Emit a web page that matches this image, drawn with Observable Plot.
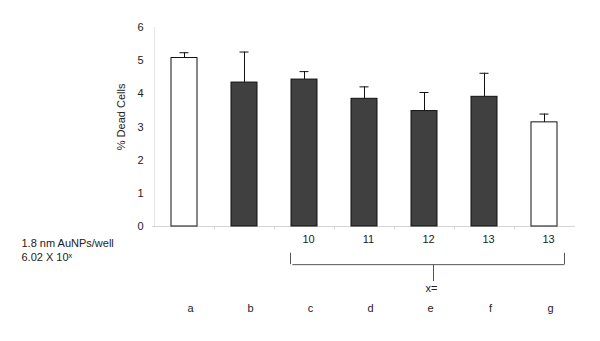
<!DOCTYPE html>
<html>
<head>
<meta charset="utf-8">
<script src="https://cdn.jsdelivr.net/npm/d3@7"></script>
<script src="https://cdn.jsdelivr.net/npm/@observablehq/plot@0.6"></script>
<style>
  html, body { margin: 0; padding: 0; background: #fff; }
  #chart svg { display: block; }
</style>
</head>
<body>
<div id="chart"></div>
<script>
// ---- data ----
const categories = ["a", "b", "c", "d", "e", "f", "g"];
const values = [5.08, 4.34, 4.43, 3.85, 3.48, 3.91, 3.14];
const errors = [0.16, 0.92, 0.24, 0.36, 0.56, 0.71, 0.25];
const kinds = ["open", "filled", "filled", "filled", "filled", "filled", "open"];
const exponents = ["", "", "10", "11", "12", "13", "13"];
const yTicks = [0, 1, 2, 3, 4, 5, 6];
const yLabel = "% Dead Cells";
const rowLabel1 = "1.8 nm AuNPs/well";
const rowLabel2 = "6.02 X 10\u02E3";
const bracketLabel = "x=";

const data = categories.map((c, i) => ({
  cat: c, value: values[i], err: errors[i], kind: kinds[i], exp: exponents[i]
}));

const ink = "#222";

const chart = Plot.plot({
  width: 600,
  height: 341,
  marginTop: 27,
  marginBottom: 115,
  marginLeft: 152,
  marginRight: 25,
  style: { fontFamily: "'Liberation Sans', Arial, sans-serif", fontSize: "11px", color: ink, background: "#fff" },
  x: { domain: categories, paddingInner: 0.57, paddingOuter: 0.3, axis: null },
  y: { domain: [0, 6], axis: null },
  color: { domain: ["open", "filled"], range: ["#ffffff", "#404040"] },
  marks: [
    // faint axis lines
    Plot.ruleY([0], { stroke: "#d4d4d4" }),
    Plot.ruleX([categories[0]], { y1: 0, y2: 6, stroke: "#e6e6e6", dx: -30 }),
    Plot.ruleX(categories.slice(0, 6), { x: d => d, y1: 0, y2: -0.1, stroke: "#d4d4d4", dx: 30 }),
    Plot.axisY({ ticks: yTicks, tickSize: 0, tickPadding: 9, tickFormat: d => d, fill: ink, fontSize: 11, label: null }),
    Plot.text([yLabel], { frameAnchor: "left", y: 2.3, dx: -31, rotate: -90, fill: ink, fontSize: 11 }),
    // bars
    Plot.barY(data, { x: "cat", y: "value", fill: "kind", stroke: "#111", strokeWidth: 1 }),
    // error bars (upper only)
    Plot.ruleX(data, { x: "cat", y1: "value", y2: d => d.value + d.err, stroke: "#111", strokeWidth: 1 }),
    Plot.tickY(data, { x: "cat", y: d => d.value + d.err, stroke: "#111", strokeWidth: 1, inset: 8.5 }),
    // exponent row
    Plot.text(data, { x: "cat", text: "exp", frameAnchor: "bottom", dy: 16, dx: 4, fill: ink, fontSize: 11 }),
    Plot.text([rowLabel1], { frameAnchor: "bottom-left", dx: -131, dy: 20, textAnchor: "start", fill: ink, fontSize: 11 }),
    Plot.text([rowLabel2], { frameAnchor: "bottom-left", dx: -131, dy: 34, textAnchor: "start", fill: ink, fontSize: 11 }),
    // bracket
    Plot.ruleY([{ y: -1.15, x1: categories[2], x2: categories[6] }], { y: "y", x1: "x1", x2: "x2", insetLeft: 1.4, insetRight: -7.4, stroke: "#555" }),
    Plot.ruleX([categories[2]], { x: d => d, y1: -0.81, y2: -1.15, dx: -14, stroke: "#555" }),
    Plot.ruleX([categories[6]], { x: d => d, y1: -0.81, y2: -1.15, dx: 20, stroke: "#555" }),
    Plot.ruleX([categories[4]], { x: d => d, y1: -1.15, y2: -1.66, dx: 9, stroke: "#555" }),
    Plot.text([bracketLabel], { x: () => categories[4], frameAnchor: "bottom", dy: 65, dx: 7, fill: ink, fontSize: 11 }),
    // letter row
    Plot.text(data, { x: "cat", text: "cat", frameAnchor: "bottom", dy: 85, dx: 6, fill: ink, fontSize: 11 })
  ]
});

document.getElementById("chart").appendChild(chart);
</script>
</body>
</html>
